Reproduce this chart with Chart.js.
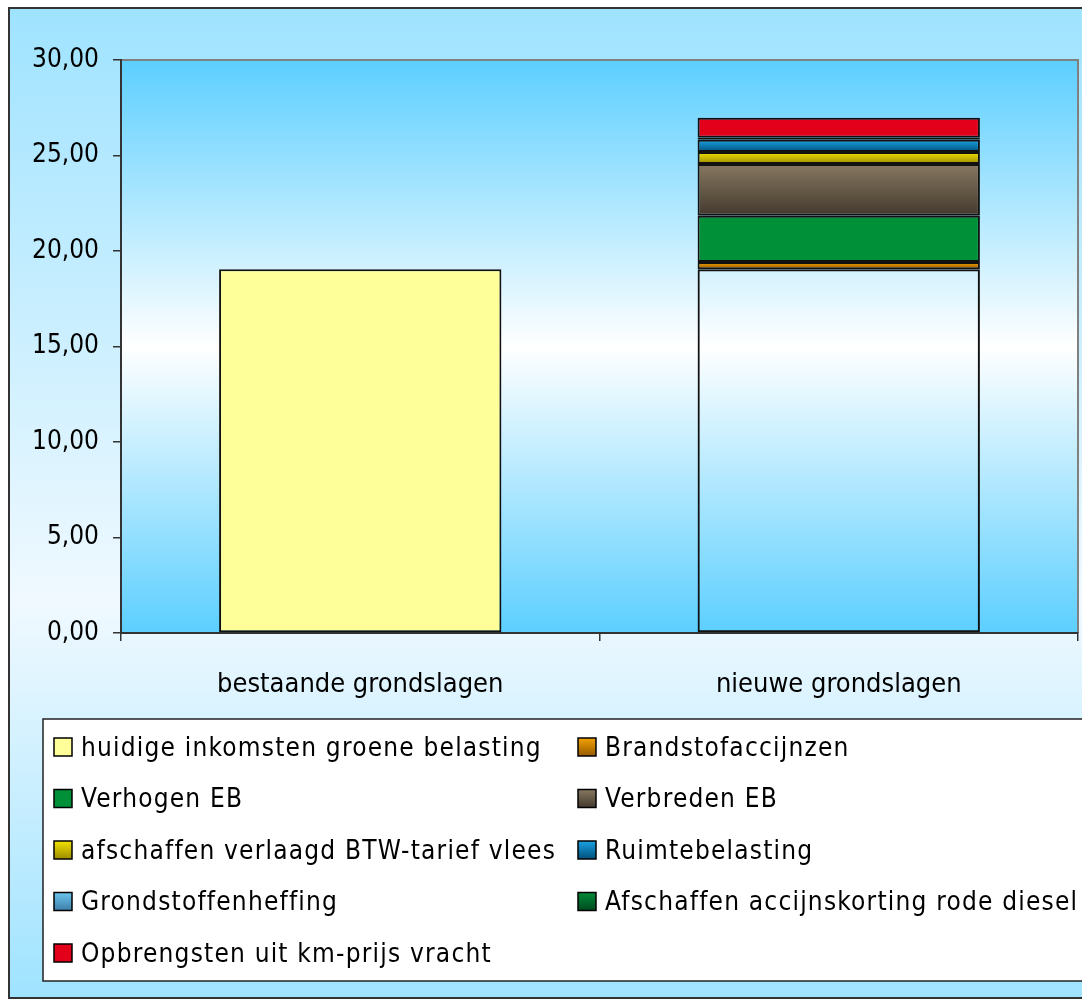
<!DOCTYPE html>
<html>
<head>
<meta charset="utf-8">
<script src="https://cdn.jsdelivr.net/npm/chart.js@4/dist/chart.umd.min.js"></script>
<style>
  body { margin: 0; background: #fff; }
  canvas { display: block; }
</style>
</head>
<body>
<canvas id="chart" width="1082" height="999"></canvas>
<script>
// Data
const categories = ['bestaande grondslagen', 'nieuwe grondslagen'];
const seriesNames = [
  'huidige inkomsten groene belasting',
  'Brandstofaccijnzen',
  'Verhogen EB',
  'Verbreden EB',
  'afschaffen verlaagd BTW-tarief vlees',
  'Ruimtebelasting',
  'Grondstoffenheffing',
  'Afschaffen accijnskorting rode diesel',
  'Opbrengsten uit km-prijs vracht'
];
const seriesValues = [
  [19.05, 19.05],
  [null, 0.37],
  [null, 2.42],
  [null, 2.72],
  [null, 0.62],
  [null, 0.64],
  [null, 0.05],
  [null, 0.06],
  [null, 1.04]
];
// top / bottom colour of each series (same = flat)
const seriesTop = ['#ffff99', '#f2a200', '#009138', '#877860', '#f2e200', '#1aa2e2', '#6cc6ee', '#008a3a', '#e2001a'];
const seriesBottom = ['#ffff99', '#985a00', '#009138', '#43392d', '#9c8c00', '#00507c', '#3c7ea8', '#004a1e', '#e2001a'];
const yTicks = { min: 0, max: 30, step: 5 };

const FONT = '"DejaVu Sans Condensed", "DejaVu Sans", sans-serif';

// vertical gradient over one stacked segment
function segmentFill(i) {
  return c => {
    if (c.type !== 'data') return seriesTop[i];
    if (i === 0 && c.dataIndex === 1) return 'rgba(255,255,255,0)';
    if (seriesTop[i] === seriesBottom[i]) return seriesTop[i];
    const y = c.chart.scales.y;
    if (!y || !c.chart.chartArea) return seriesTop[i];
    let base = 0;
    for (let k = 0; k < i; k++) base += seriesValues[k][c.dataIndex] || 0;
    const v = seriesValues[i][c.dataIndex] || 0;
    const y0 = y.getPixelForValue(base + v), y1 = y.getPixelForValue(base);
    if (!isFinite(y0) || !isFinite(y1) || y0 === y1) return seriesTop[i];
    const g = c.chart.ctx.createLinearGradient(0, y0, 0, y1);
    g.addColorStop(0, seriesTop[i]);
    g.addColorStop(1, seriesBottom[i]);
    return g;
  };
}

// backgrounds, frame and plot area gradient
const backdrop = {
  id: 'backdrop',
  beforeDraw(chart) {
    const { ctx, chartArea: a } = chart;
    ctx.save();
    ctx.fillStyle = '#fff';
    ctx.fillRect(0, 0, chart.width, chart.height);
    const g = ctx.createLinearGradient(0, 8, 0, 998);
    g.addColorStop(0, '#9fe3ff');
    g.addColorStop(0.6, '#f0f9ff');
    g.addColorStop(1, '#9fe3ff');
    ctx.fillStyle = g;
    ctx.fillRect(9, 8, chart.width, 990);
    ctx.strokeStyle = '#333';
    ctx.lineWidth = 2;
    ctx.strokeRect(9, 8, chart.width + 20, 990);

    const pg = ctx.createLinearGradient(0, a.top, 0, a.bottom);
    pg.addColorStop(0, '#5ccfff');
    pg.addColorStop(0.5, '#ffffff');
    pg.addColorStop(1, '#5ccfff');
    ctx.fillStyle = pg;
    ctx.fillRect(a.left, a.top, a.right - a.left, a.bottom - a.top);
    ctx.strokeStyle = '#808080';
    ctx.beginPath();
    ctx.moveTo(a.left, a.top);
    ctx.lineTo(a.right, a.top);
    ctx.lineTo(a.right, a.bottom);
    ctx.stroke();
    ctx.restore();
  }
};

// legend in two fixed columns
const gridLegend = {
  id: 'gridLegend',
  afterDraw(chart) {
    const { ctx } = chart;
    ctx.save();
    ctx.fillStyle = '#fff';
    ctx.fillRect(43, 719, 1060, 262);
    ctx.strokeStyle = '#222';
    ctx.lineWidth = 1.5;
    ctx.strokeRect(43, 719, 1060, 262);
    ctx.font = '26px ' + FONT;
    ctx.letterSpacing = '1.2px';
    ctx.textBaseline = 'middle';
    chart.data.datasets.forEach((ds, i) => {
      const col = i % 2, row = Math.floor(i / 2);
      const x = col === 0 ? 54 : 578;
      const y = 747 + row * 51.5;
      const g = ctx.createLinearGradient(0, y - 9, 0, y + 9);
      g.addColorStop(0, seriesTop[i]);
      g.addColorStop(1, seriesBottom[i]);
      ctx.fillStyle = g;
      ctx.fillRect(x, y - 9, 18, 18);
      ctx.strokeStyle = '#000';
      ctx.lineWidth = 1.5;
      ctx.strokeRect(x, y - 9, 18, 18);
      ctx.fillStyle = '#000';
      ctx.fillText(ds.label, x + 27, y + 2);
    });
    ctx.restore();
  }
};

const datasets = seriesNames.map((name, i) => ({
  label: name,
  data: seriesValues[i],
  backgroundColor: segmentFill(i),
  borderColor: '#111',
  borderWidth: 2,
  borderSkipped: false,
  categoryPercentage: 1,
  barPercentage: 0.59
}));

new Chart(document.getElementById('chart'), {
  type: 'bar',
  data: { labels: categories, datasets },
  plugins: [backdrop, gridLegend],
  options: {
    responsive: false,
    animation: false,
    layout: { padding: { left: 0, top: 60, right: 4, bottom: 0 } },
    plugins: { legend: { display: false }, tooltip: { enabled: false } },
    scales: {
      x: {
        stacked: true,
        afterFit: s => { s.height = 366; },
        grid: { display: true, drawOnChartArea: false, tickLength: 8, color: '#333', lineWidth: 1.5 },
        border: { color: '#333', width: 2 },
        ticks: { color: '#000', font: { family: FONT, size: 27 }, padding: 28 }
      },
      y: {
        stacked: true,
        min: yTicks.min,
        max: yTicks.max,
        afterFit: s => { s.width = 121; },
        grid: { display: true, drawOnChartArea: false, tickLength: 8, color: '#333', lineWidth: 1.5 },
        border: { color: '#333', width: 2 },
        ticks: {
          stepSize: yTicks.step,
          color: '#000',
          font: { family: FONT, size: 26 },
          padding: 14,
          callback: v => v.toFixed(2).replace('.', ',')
        }
      }
    }
  }
});
</script>
</body>
</html>
